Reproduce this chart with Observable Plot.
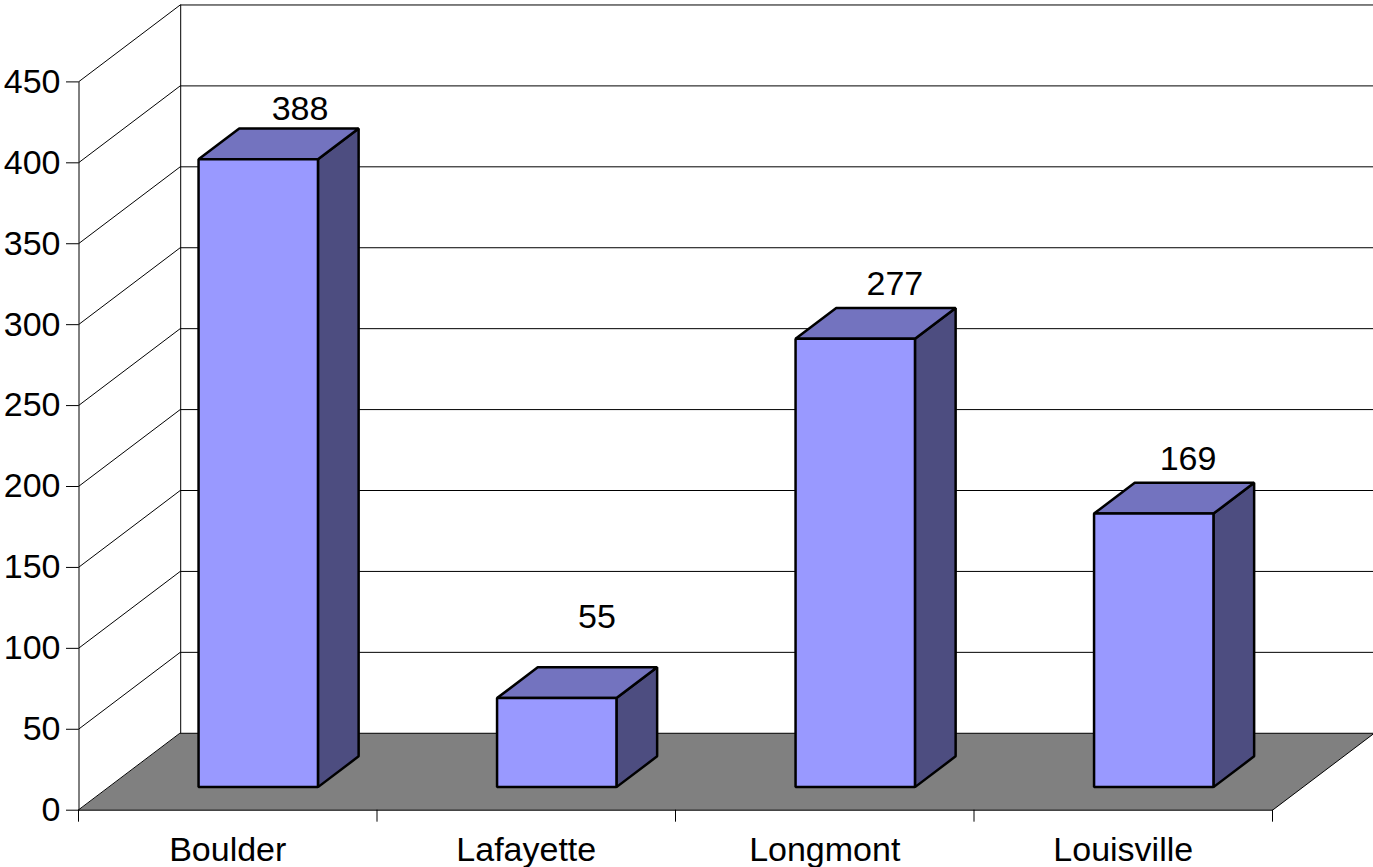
<!DOCTYPE html>
<html>
<head>
<meta charset="utf-8">
<style>html,body{margin:0;padding:0;background:#fff}svg{display:block}</style>
<script src="https://cdn.jsdelivr.net/npm/d3@7"></script>
<script src="https://cdn.jsdelivr.net/npm/@observablehq/plot@0.6"></script>
</head>
<body>
<div id="chart"></div>
<script>
const categories = ["Boulder", "Lafayette", "Longmont", "Louisville"];
const values = [388, 55, 277, 169];
const yTicks = [0, 50, 100, 150, 200, 250, 300, 350, 400, 450];
const xBoundaries = [0, 1, 2, 3, 4];
const labelHeights = [433, 119, 325, 217];
const labelPositions = [0.742, 1.737, 2.735, 3.717];

// oblique projection of the 3D chart box, in scale units
const depthX = 0.3407;
const depthY = 47.53;
const pt = (c, v, d) => ({x: c + d * depthX, y: v + d * depthY});
const poly = (id, pts) => pts.map((p) => ({id, ...pt(...p)}));

const barLeft = 0.3, barRight = 0.7, barNear = 0.3, barFar = 0.7;
const fronts = [], sides = [], tops = [];
categories.forEach((name, i) => {
  const l = i + barLeft, r = i + barRight, v = values[i];
  fronts.push(...poly(name, [[l, 0, barNear], [r, 0, barNear], [r, v, barNear], [l, v, barNear]]));
  sides.push(...poly(name, [[r, 0, barNear], [r, 0, barFar], [r, v, barFar], [r, v, barNear]]));
  tops.push(...poly(name, [[l, v, barNear], [r, v, barNear], [r, v, barFar], [l, v, barFar]]));
});

const floor = poly("floor", [[0, 0, 0], [4, 0, 0], [4, 0, 1], [0, 0, 1]]);
const wallLines = yTicks.filter((t) => t > 0).flatMap((t) =>
  poly("w" + t, [[0, t, 0], [0, t, 1], [4, t, 1]]));
const corner = poly("corner", [[0, 0, 1], [0, 450, 1]]);
const leftEdge = poly("left", [[0, 0, 0], [0, 450, 0]]);

const face = (data, fill) => Plot.line(data, {
  x: "x", y: "y", z: "id", fill, stroke: "#000", strokeWidth: 2.5,
  curve: "linear-closed", strokeLinejoin: "miter"
});

const chart = Plot.plot({
  width: 1373,
  height: 867,
  marginLeft: 78,
  marginRight: 101,
  marginTop: 81.4,
  marginBottom: 57.3,
  style: {fontFamily: "'Liberation Sans', Arial, sans-serif", background: "#fff", color: "#000"},
  x: {domain: [0, 4], range: [78, 1272], axis: null},
  y: {domain: [0, 450], range: [809.7, 81.4], axis: null},
  marks: [
    Plot.line(wallLines, {x: "x", y: "y", z: "id", stroke: "#000", strokeWidth: 1}),
    Plot.line(corner, {x: "x", y: "y", z: "id", dx: 0.5, stroke: "#000", strokeWidth: 1}),
    Plot.line(leftEdge, {x: "x", y: "y", z: "id", dx: 0.5, stroke: "#000", strokeWidth: 1}),
    Plot.line(floor, {x: "x", y: "y", z: "id", fill: "#808080", stroke: "#000", strokeWidth: 1, curve: "linear-closed"}),
    Plot.ruleX(xBoundaries, {y1: 0, y2: -7.4, stroke: "#000", strokeWidth: 1}),
    Plot.axisY({ticks: yTicks, tickSize: 12, tickPadding: 6, fontSize: 34, anchor: "left", label: null, tickFormat: (d) => String(d)}),
    Plot.axisX({ticks: categories.map((_, i) => i + 0.5), tickSize: 0, tickPadding: 27, fontSize: 34, anchor: "bottom", label: null,
      tickFormat: (d) => categories[d - 0.5]}),
    face(sides, "#4D4D80"),
    face(tops, "#7373BF"),
    face(fronts, "#9999FF"),
    Plot.text(values, {
      x: (_, i) => labelPositions[i],
      y: (_, i) => labelHeights[i],
      text: (d) => String(d),
      fontSize: 34,
      fill: "#000"
    })
  ]
});
document.getElementById("chart").append(chart);
</script>
</body>
</html>
